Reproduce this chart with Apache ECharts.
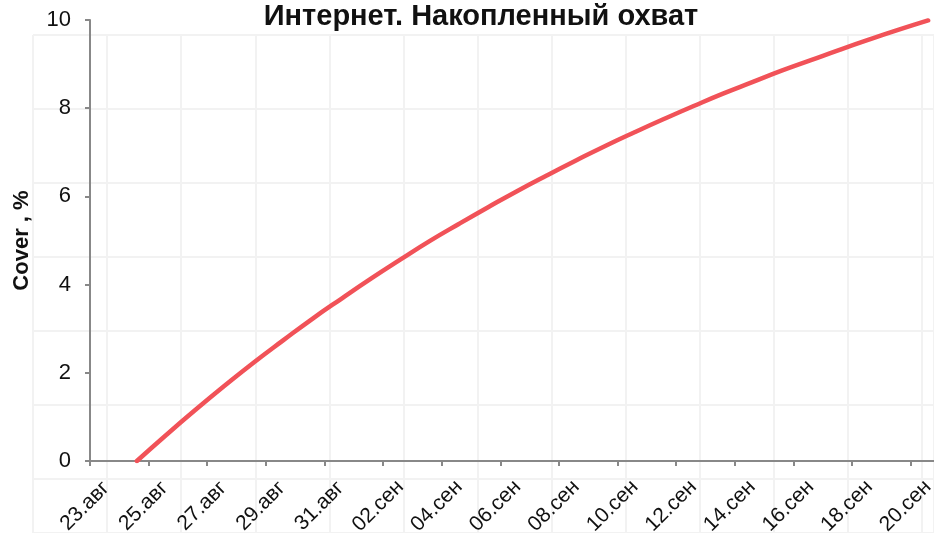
<!DOCTYPE html>
<html><head><meta charset="utf-8">
<script src="https://cdn.jsdelivr.net/npm/echarts@6/dist/echarts.min.js"></script>
<style>html,body{margin:0;padding:0;background:#fff}#c{width:934px;height:533px}</style>
</head><body><div id="c"></div>
<script>
// Tick labels: one per day starting at 23 Aug (day offset 0)
const dayLabels = ['23.авг','24.авг','25.авг','26.авг','27.авг','28.авг','29.авг','30.авг','31.авг',
  '01.сен','02.сен','03.сен','04.сен','05.сен','06.сен','07.сен','08.сен','09.сен','10.сен',
  '11.сен','12.сен','13.сен','14.сен','15.сен','16.сен','17.сен','18.сен','19.сен','20.сен','21.сен','22.сен'];
// x positions of points, in days after 23 Aug
const xDays = [1.6,2.6,3.6,4.6,5.6,6.6,7.6,8.6,9.6,10.6,11.6,12.6,13.6,14.6,15.6,16.6,17.6,18.6,19.6,20.6,21.6,22.6,23.6,24.6,25.6,26.6,27.6,28.6];
// cumulative reach, %
const cover = [0,0.59,1.16,1.71,2.24,2.74,3.23,3.69,4.14,4.57,4.99,5.38,5.76,6.13,6.48,6.82,7.15,7.46,7.76,8.05,8.33,8.59,8.85,9.09,9.33,9.56,9.78,9.99];
const yTicks = [0,2,4,6,8,10];

const FONT = 'Liberation Sans, Arial, sans-serif';
const chart = echarts.init(document.getElementById('c'));
chart.setOption({
  animation: false,
  backgroundColor: '#fff',
  title: {
    text: 'Интернет. Накопленный охват',
    left: 476, textAlign: 'center', top: -3,
    textStyle: {fontFamily: FONT, fontWeight: 'bold', fontSize: 29, color: '#111'}
  },
  grid: [
    {left: 90, right: 0, top: 20, bottom: 72, containLabel: false, outerBoundsMode: 'none'},
    {left: 33, right: 0, top: 35, bottom: 0, containLabel: false, outerBoundsMode: 'none', z: 0}
  ],
  xAxis: [{
    type: 'value', min: 0, max: 28.8, interval: 2, gridIndex: 0, z: 3,
    axisLine: {show: true, lineStyle: {color: '#888', width: 2}},
    axisTick: {show: true, length: 5, lineStyle: {color: '#888', width: 2}},
    splitLine: {show: false},
    axisLabel: {
      rotate: 45, margin: 40, fontSize: 21, color: '#111',
      fontFamily: FONT, align: 'center', verticalAlign: 'middle',
      padding: [0, 14, 0, 0],
      showMaxLabel: false,
      formatter: v => dayLabels[Math.round(v)] || ''
    }
  }, {
    type: 'value', min: 0, max: 901, interval: 74.1, gridIndex: 1, z: 0,
    axisLine: {show: false}, axisTick: {show: false}, axisLabel: {show: false},
    splitLine: {show: true, lineStyle: {color: '#f2f2f2', width: 2}}
  }],
  yAxis: [{
    type: 'value', min: yTicks[0], max: yTicks[yTicks.length-1], interval: 2, gridIndex: 0, z: 3,
    name: 'Cover , %', nameLocation: 'middle', nameGap: 57, nameRotate: 90,
    nameTextStyle: {fontFamily: FONT, fontWeight: 'bold', fontSize: 22, color: '#111'},
    axisLine: {show: true, lineStyle: {color: '#888', width: 2}},
    axisTick: {show: true, length: 5, lineStyle: {color: '#888', width: 2}},
    splitLine: {show: false},
    axisLabel: {margin: 19, fontSize: 22, color: '#111', fontFamily: FONT}
  }, {
    type: 'value', min: 0, max: 498, interval: 74, inverse: true, gridIndex: 1, z: 0,
    axisLine: {show: false}, axisTick: {show: false}, axisLabel: {show: false},
    splitLine: {show: true, lineStyle: {color: '#f2f2f2', width: 2}}
  }],
  series: [{
    type: 'line', smooth: true, symbol: 'none', xAxisIndex: 0, yAxisIndex: 0, z: 5,
    lineStyle: {color: '#f15258', width: 4.5, cap: 'round'},
    data: xDays.map((d, i) => [d, cover[i]])
  }]
});
</script></body></html>
